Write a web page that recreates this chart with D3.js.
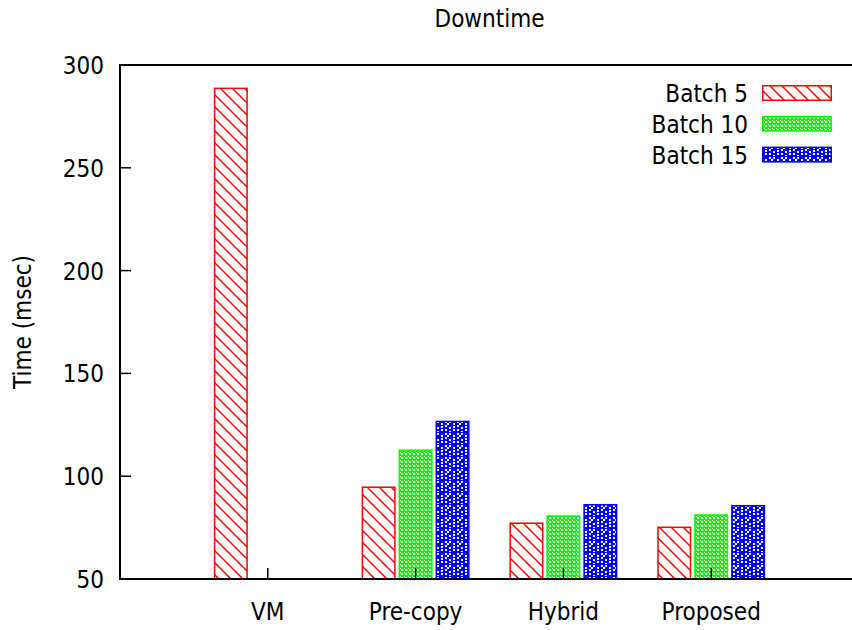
<!DOCTYPE html>
<html>
<head>
<meta charset="utf-8">
<script src="https://cdn.jsdelivr.net/npm/d3@7"></script>
<style>
  html, body { margin: 0; padding: 0; background: #fff; }
  svg { display: block; }
  text { font-family: "DejaVu Sans Condensed", "DejaVu Sans", sans-serif; fill: #000; }
</style>
</head>
<body>
<svg id="chart" width="852" height="630"></svg>
<script>
// Downtime per migration scheme, three batch sizes (msec)
const categories = ["VM", "Pre-copy", "Hybrid", "Proposed"];
const seriesNames = ["Batch 5", "Batch 10", "Batch 15"];
const batch5  = [289, 95, 77.5, 75.5];
const batch10 = [null, 113, 81, 81.5];
const batch15 = [null, 127, 86.5, 86];
const yTicks = [50, 100, 150, 200, 250, 300];

const series = [batch5, batch10, batch15];
const colors = ["#ff0000", "#00ff00", "#0000ff"];

const plot = { left: 120, right: 859, top: 65, bottom: 579 };
const fontSize = 24;

const svg = d3.select("#chart");
const defs = svg.append("defs");

// Fill patterns: red hatch, green fine dots, blue dense dots
const pRed = defs.append("pattern").attr("id", "fill0")
  .attr("patternUnits", "userSpaceOnUse").attr("width", 12).attr("height", 12);
pRed.append("rect").attr("width", 12).attr("height", 12).attr("fill", "#fff");
[[-12, -12], [0, 0], [12, 12]].forEach(([dx, dy]) => {
  pRed.append("line")
    .attr("x1", dx - 1).attr("y1", dy - 1).attr("x2", dx + 13).attr("y2", dy + 13)
    .attr("stroke", colors[0]).attr("stroke-width", 1.4);
});
pRed.append("line").attr("x1", -1).attr("y1", 11).attr("x2", 1).attr("y2", 13)
  .attr("stroke", colors[0]).attr("stroke-width", 1.4);
pRed.append("line").attr("x1", 11).attr("y1", -1).attr("x2", 13).attr("y2", 1)
  .attr("stroke", colors[0]).attr("stroke-width", 1.4);

const pGreen = defs.append("pattern").attr("id", "fill1")
  .attr("patternUnits", "userSpaceOnUse").attr("width", 4).attr("height", 4);
pGreen.append("rect").attr("width", 4).attr("height", 4).attr("fill", colors[1]);
pGreen.append("rect").attr("x", 1).attr("y", 1).attr("width", 2).attr("height", 2).attr("fill", "#fff");
pGreen.append("rect").attr("x", 0).attr("y", 0).attr("width", 1).attr("height", 1).attr("fill", "#fff");

const pBlue = defs.append("pattern").attr("id", "fill2")
  .attr("patternUnits", "userSpaceOnUse").attr("width", 12).attr("height", 12);
pBlue.append("rect").attr("width", 12).attr("height", 12).attr("fill", colors[2]);
[[1, 1], [5, 1], [9, 3], [1, 5], [5, 7], [1, 9], [9, 9], [5, 11], [9, 6], [3, 3]].forEach(([x, y]) => {
  pBlue.append("rect").attr("x", x).attr("y", y).attr("width", 2).attr("height", 2).attr("fill", "#fff");
});

defs.append("clipPath").attr("id", "plotClip")
  .append("rect")
  .attr("x", plot.left).attr("y", plot.top)
  .attr("width", plot.right - plot.left).attr("height", plot.bottom - plot.top);

const x = d3.scaleLinear().domain([-1, categories.length]).range([plot.left, plot.right]);
const y = d3.scaleLinear().domain([50, 300]).range([plot.bottom, plot.top]);

const slot = 0.25, barW = 0.23;

// Bars
const bars = svg.append("g").attr("clip-path", "url(#plotClip)");
series.forEach((vals, s) => {
  vals.forEach((v, i) => {
    if (v == null) return;
    const cx = i + (s - 1) * slot;
    const x0 = x(cx - barW / 2), x1 = x(cx + barW / 2);
    bars.append("rect")
      .attr("x", x0 + 0.75).attr("y", y(v) + 0.75)
      .attr("width", x1 - x0 - 1.5).attr("height", y(50) - y(v))
      .attr("fill", `url(#fill${s})`)
      .attr("stroke", colors[s]).attr("stroke-width", 1.5);
  });
});

// Axes
const axisG = svg.append("g");
const tickLen = 11;
yTicks.forEach(t => {
  axisG.append("line")
    .attr("x1", plot.left).attr("x2", plot.left + tickLen)
    .attr("y1", y(t)).attr("y2", y(t))
    .attr("stroke", "#000").attr("stroke-width", 1.5);
  axisG.append("text")
    .attr("x", 104).attr("y", y(t) + 9)
    .attr("text-anchor", "end").attr("font-size", fontSize)
    .text(t);
});
categories.forEach((c, i) => {
  axisG.append("line")
    .attr("x1", x(i)).attr("x2", x(i))
    .attr("y1", plot.bottom).attr("y2", plot.bottom - tickLen)
    .attr("stroke", "#000").attr("stroke-width", 1.5);
  axisG.append("text")
    .attr("x", x(i)).attr("y", 620)
    .attr("text-anchor", "middle").attr("font-size", fontSize)
    .text(c);
});

axisG.append("rect")
  .attr("x", plot.left).attr("y", plot.top)
  .attr("width", plot.right - plot.left).attr("height", plot.bottom - plot.top)
  .attr("fill", "none").attr("stroke", "#000").attr("stroke-width", 2);

// Title and axis label
svg.append("text")
  .attr("x", (plot.left + plot.right) / 2).attr("y", 27)
  .attr("text-anchor", "middle").attr("font-size", fontSize)
  .text("Downtime");

svg.append("text")
  .attr("transform", `translate(31,${(plot.top + plot.bottom) / 2}) rotate(-90)`)
  .attr("text-anchor", "middle").attr("font-size", fontSize)
  .text("Time (msec)");

// Legend
const legend = svg.append("g");
seriesNames.forEach((name, s) => {
  const cy = 93 + s * 30.8;
  legend.append("text")
    .attr("x", 748).attr("y", cy + 9)
    .attr("text-anchor", "end").attr("font-size", fontSize)
    .text(name);
  legend.append("rect")
    .attr("x", 762.75).attr("y", cy - 7.25)
    .attr("width", 68.5).attr("height", 14.5)
    .attr("fill", `url(#fill${s})`)
    .attr("stroke", colors[s]).attr("stroke-width", 1.5);
});
</script>
</body>
</html>
